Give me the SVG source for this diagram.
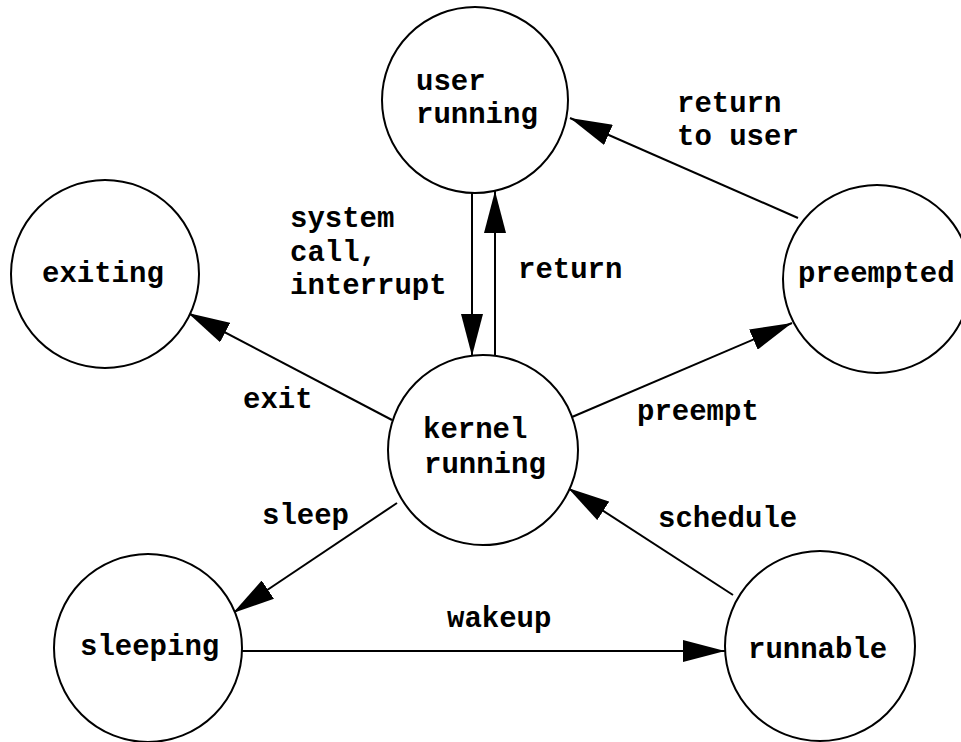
<svg xmlns="http://www.w3.org/2000/svg" width="961" height="742" viewBox="0 0 961 742">
  <style>
    .state { fill: #ffffff; stroke: #000000; stroke-width: 2; }
    .label { font-family: "Liberation Mono", "Courier New", monospace; font-weight: bold; font-size: 29px; fill: #000000; }
    .edge { fill: none; stroke: #000000; stroke-width: 2; marker-end: url(#head); }
  </style>
  <defs>
    <marker id="head" viewBox="0 0 42 22" refX="42" refY="11" markerWidth="42" markerHeight="22" markerUnits="userSpaceOnUse" orient="auto">
      <path d="M0,0 L42,11 L0,22 z" fill="#000000"/>
    </marker>
  </defs>
  <rect width="961" height="742" fill="#ffffff"/>

  <!-- transitions -->
  <g id="connectors">
    <line class="edge" x1="472" y1="193" x2="472" y2="356"/>
    <line class="edge" x1="495" y1="356" x2="495" y2="191"/>
    <line class="edge" x1="798" y1="218" x2="570" y2="118"/>
    <line class="edge" x1="572" y1="417" x2="792" y2="323"/>
    <line class="edge" x1="733" y1="595" x2="568" y2="488"/>
    <line class="edge" x1="392" y1="420" x2="188" y2="313"/>
    <line class="edge" x1="397" y1="503" x2="233" y2="613"/>
    <line class="edge" x1="242" y1="651" x2="725" y2="651"/>
  </g>

  <!-- transition labels -->
  <g id="edge-labels">
    <text class="label" x="290" y="227">system</text>
    <text class="label" x="290" y="261">call,</text>
    <text class="label" x="290" y="294">interrupt</text>
    <text class="label" x="518" y="278">return</text>
    <text class="label" x="677" y="112">return</text>
    <text class="label" x="677" y="145">to user</text>
    <text class="label" x="637" y="420">preempt</text>
    <text class="label" x="658" y="527">schedule</text>
    <text class="label" x="243" y="408">exit</text>
    <text class="label" x="262" y="524">sleep</text>
    <text class="label" x="447" y="627">wakeup</text>
  </g>

  <!-- states -->
  <g id="user-running">
    <circle class="state" cx="475" cy="100" r="93"/>
    <text class="label" x="416" y="90">user</text>
    <text class="label" x="416" y="123">running</text>
  </g>
  <g id="exiting">
    <circle class="state" cx="105" cy="274" r="94"/>
    <text class="label" x="42" y="282">exiting</text>
  </g>
  <g id="preempted">
    <circle class="state" cx="877" cy="279" r="94"/>
    <text class="label" x="798" y="282">preempted</text>
  </g>
  <g id="kernel-running">
    <circle class="state" cx="483" cy="450" r="95"/>
    <text class="label" x="423" y="438">kernel</text>
    <text class="label" x="424" y="473">running</text>
  </g>
  <g id="sleeping">
    <circle class="state" cx="148" cy="648" r="94"/>
    <text class="label" x="80" y="655">sleeping</text>
  </g>
  <g id="runnable">
    <circle class="state" cx="820" cy="646" r="95"/>
    <text class="label" x="748" y="658">runnable</text>
  </g>
</svg>
